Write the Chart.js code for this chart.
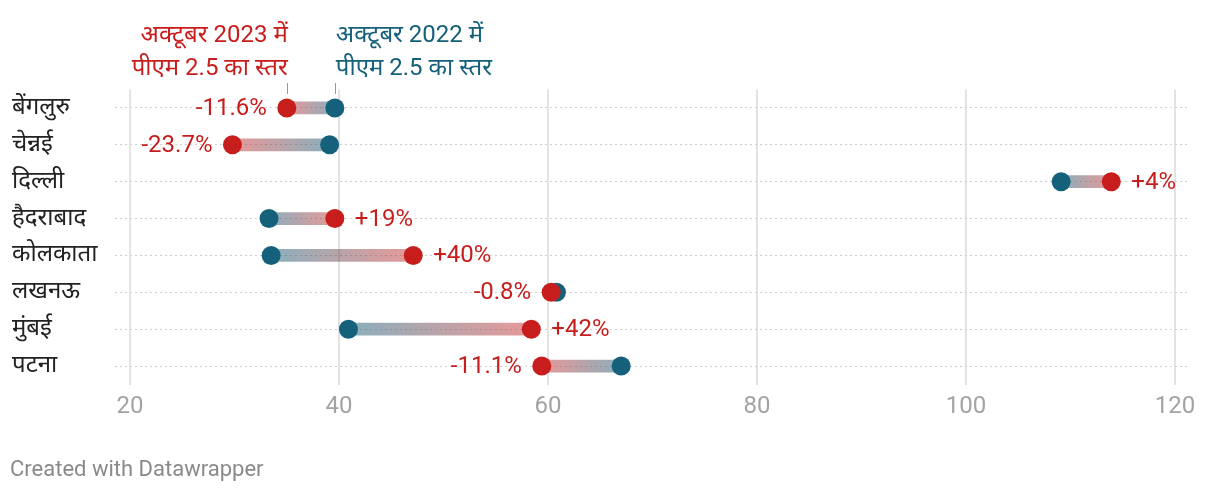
<!DOCTYPE html>
<html>
<head>
<meta charset="utf-8">
<script src="https://cdn.jsdelivr.net/npm/chart.js@4/dist/chart.umd.min.js"></script>
<style>
  html, body { margin: 0; padding: 0; background: #fff; }
  #wrap { width: 1220px; height: 494px; position: relative; }
</style>
</head>
<body>
<div id="wrap"><canvas id="c" width="1220" height="494"></canvas></div>
<script>
// ---- data ----
const cities = ['बेंगलुरु', 'चेन्नई', 'दिल्ली', 'हैदराबाद', 'कोलकाता', 'लखनऊ', 'मुंबई', 'पटना'];
const pm2022 = [39.6, 39.1, 109.1, 33.3, 33.5, 60.8, 40.9, 67.0];
const pm2023 = [35.0, 29.8, 113.9, 39.6, 47.1, 60.3, 58.4, 59.4];
const changeLabels = ['-11.6%', '-23.7%', '+4%', '+19%', '+40%', '-0.8%', '+42%', '-11.1%'];
const xTicks = [20, 40, 60, 80, 100, 120];
const header2023 = ['अक्टूबर 2023 में', 'पीएम 2.5 का स्तर'];
const header2022 = ['अक्टूबर 2022 में', 'पीएम 2.5 का स्तर'];
const footer = 'Created with Datawrapper';

const RED = '#c71e1d';
const BLUE = '#15607a';
const FONT = "Roboto, 'Noto Sans', 'Noto Sans Devanagari', sans-serif";

const ranges = cities.map((c, i) => [Math.min(pm2022[i], pm2023[i]), Math.max(pm2022[i], pm2023[i])]);

function barGradient(context) {
  const chart = context.chart;
  const i = context.dataIndex;
  const xs = chart.scales.x;
  if (!xs || i === undefined) return 'rgba(150,150,150,0.5)';
  const xb = xs.getPixelForValue(pm2022[i]);
  const xr = xs.getPixelForValue(pm2023[i]);
  if (!isFinite(xb) || !isFinite(xr) || xb === xr) return 'rgba(150,150,150,0.5)';
  const g = chart.ctx.createLinearGradient(xb, 0, xr, 0);
  g.addColorStop(0, 'rgba(21,96,122,0.5)');
  g.addColorStop(1, 'rgba(199,30,29,0.45)');
  return g;
}

const annotations = {
  id: 'annotations',
  afterDatasetsDraw(chart) {
    const ctx = chart.ctx;
    const xs = chart.scales.x, ys = chart.scales.y;
    ctx.save();
    ctx.font = '24px ' + FONT;
    ctx.textBaseline = 'middle';
    ctx.fillStyle = RED;
    cities.forEach((c, i) => {
      const xr = xs.getPixelForValue(pm2023[i]);
      const y = ys.getPixelForValue(i);
      const neg = changeLabels[i].startsWith('-');
      ctx.textAlign = neg ? 'right' : 'left';
      ctx.fillText(changeLabels[i], neg ? xr - 20 : xr + 20, y + 1);
    });
    // headers
    const xr0 = xs.getPixelForValue(pm2023[0]);
    const xb0 = xs.getPixelForValue(pm2022[0]);
    ctx.textBaseline = 'alphabetic';
    ctx.textAlign = 'right';
    ctx.fillStyle = RED;
    ctx.fillText(header2023[0], xr0 + 1, 42);
    ctx.fillText(header2023[1], xr0 + 1, 75);
    ctx.textAlign = 'left';
    ctx.fillStyle = BLUE;
    ctx.fillText(header2022[0], xb0 + 1, 42);
    ctx.fillText(header2022[1], xb0 + 1, 75);
    ctx.strokeStyle = '#999';
    ctx.lineWidth = 1;
    [xr0, xb0].forEach(x => {
      ctx.beginPath();
      ctx.moveTo(Math.round(x) + 0.5, 83);
      ctx.lineTo(Math.round(x) + 0.5, 94);
      ctx.stroke();
    });
    // footer
    ctx.font = '22px ' + FONT;
    ctx.fillStyle = '#8a8a8a';
    ctx.textAlign = 'left';
    ctx.fillText(footer, 10, 476);
    ctx.restore();
  }
};

new Chart(document.getElementById('c'), {
  type: 'bar',
  data: {
    labels: cities,
    datasets: [
      {
        label: '2023',
        type: 'line',
        data: pm2023.map((v, i) => ({ x: v, y: cities[i] })),
        showLine: false,
        pointRadius: 9.5,
        pointHoverRadius: 9.5,
        pointBackgroundColor: RED,
        pointBorderWidth: 0,
        borderColor: RED,
        order: 0
      },
      {
        label: '2022',
        type: 'line',
        data: pm2022.map((v, i) => ({ x: v, y: cities[i] })),
        showLine: false,
        pointRadius: 9.5,
        pointHoverRadius: 9.5,
        pointBackgroundColor: BLUE,
        pointBorderWidth: 0,
        borderColor: BLUE,
        order: 1
      },
      {
        label: 'range',
        data: ranges,
        backgroundColor: barGradient,
        borderWidth: 0,
        borderSkipped: false,
        barThickness: 12,
        order: 2
      }
    ]
  },
  options: {
    indexAxis: 'y',
    responsive: false,
    animation: false,
    events: [],
    layout: { padding: { left: 12, right: 32, top: 89.5, bottom: 69.5 } },
    plugins: { legend: { display: false }, tooltip: { enabled: false } },
    scales: {
      x: {
        type: 'linear',
        min: 18.56,
        max: 121.24,
        afterBuildTicks(scale) { scale.ticks = xTicks.map(v => ({ value: v })); },
        afterFit(scale) { scale.height = 40; },
        grid: { color: '#e3e3e3', lineWidth: 2, drawTicks: false },
        border: { display: false },
        ticks: { color: '#a3a3a3', font: { family: FONT, size: 24 }, padding: 8 }
      },
      y: {
        type: 'category',
        offset: true,
        afterFit(scale) { scale.width = 103; },
        grid: { color: '#cfcfcf', lineWidth: 1, drawTicks: false, offset: false },
        border: { display: false, dash: [2, 3] },
        ticks: { color: '#222', font: { family: FONT, size: 24 }, crossAlign: 'far', padding: 0 }
      }
    }
  },
  plugins: [annotations]
});
</script>
</body>
</html>
